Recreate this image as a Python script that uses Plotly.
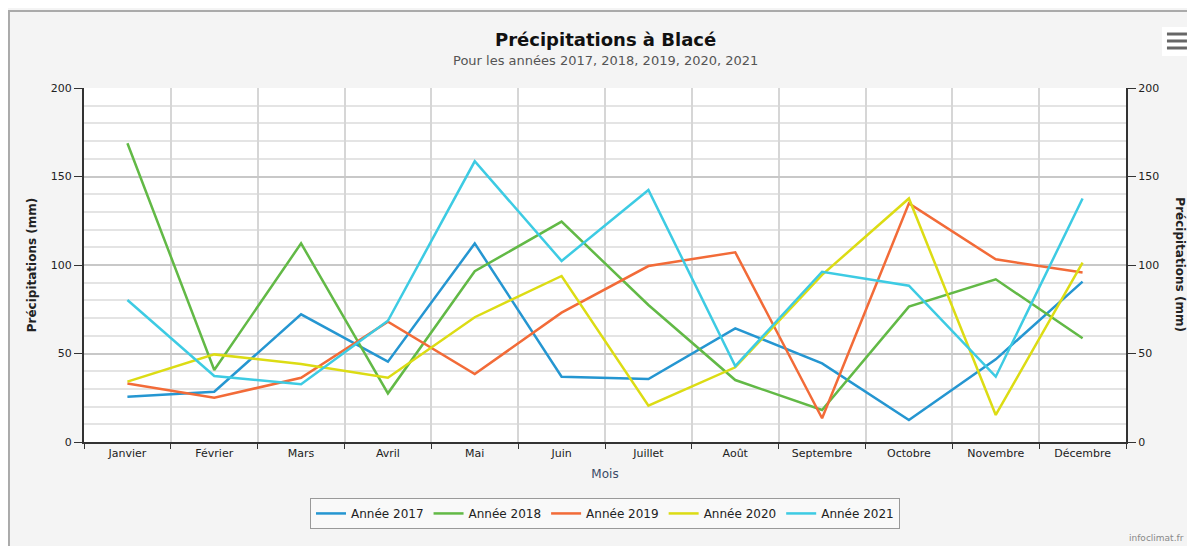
import plotly.graph_objects as go

mois = ["Janvier", "Février", "Mars", "Avril", "Mai", "Juin", "Juillet",
        "Août", "Septembre", "Octobre", "Novembre", "Décembre"]

annees = ["Année 2017", "Année 2018", "Année 2019", "Année 2020", "Année 2021"]

pluie_2017 = [25.6, 28.4, 72.1, 45.4, 112.2, 36.9, 35.6, 64.2, 44.4, 12.4, 46.7, 90.6]
pluie_2018 = [168.8, 40.7, 112.2, 27.5, 96.5, 124.5, 77.4, 35.0, 18.1, 76.5, 91.9, 58.6]
pluie_2019 = [33.1, 25.0, 36.3, 68.0, 38.4, 73.1, 99.4, 107.2, 13.4, 134.8, 103.2, 95.7]
pluie_2020 = [34.1, 49.5, 44.1, 36.3, 70.5, 93.8, 20.5, 42.2, 94.4, 137.6, 15.3, 101.3]
pluie_2021 = [80.2, 37.3, 32.6, 68.5, 158.6, 102.3, 142.4, 42.9, 96.2, 88.3, 36.9, 137.6]

series = [pluie_2017, pluie_2018, pluie_2019, pluie_2020, pluie_2021]
couleurs = ["#2596d1", "#62b946", "#f26b38", "#dcdc14", "#3dcbe3"]

police = "DejaVu Sans"

fig = go.Figure()

for nom, valeurs, c in zip(annees, series, couleurs):
    fig.add_trace(go.Scatter(x=mois, y=valeurs, name=nom, mode="lines",
                             line=dict(color=c, width=2.5)))

# axe de droite (meme echelle)
fig.add_trace(go.Scatter(x=mois, y=pluie_2017, yaxis="y2", mode="lines",
                         line=dict(width=0), showlegend=False, hoverinfo="skip"))

# la page ajoute une marge de 8 px : la figure fait donc 1187 x 538
fig.update_layout(
    width=1187, height=538,
    margin=dict(l=76, r=69, t=80, b=104),
    paper_bgcolor="#f4f4f4",
    plot_bgcolor="white",
    font=dict(family=police, size=12, color="#333333"),
    xaxis=dict(
        type="category", tickson="boundaries",
        showgrid=True, gridcolor="#d6d6d6", gridwidth=2,
        showline=True, linecolor="#333333", linewidth=2,
        ticks="outside", ticklen=5, tickcolor="#333333",
        tickfont=dict(size=11, color="#222222"),
        title=dict(text="Mois", font=dict(size=12, color="#3a4a66"), standoff=10),
        range=[-0.5, 11.5]),
    yaxis=dict(
        range=[0, 200], dtick=50,
        showgrid=True, gridcolor="#c8c8c8", gridwidth=2,
        minor=dict(dtick=10, showgrid=True, gridcolor="#e4e4e4", gridwidth=2),
        showline=True, linecolor="#333333", linewidth=2,
        ticks="outside", ticklen=8, tickcolor="#333333",
        tickfont=dict(size=11, color="#222222"),
        zeroline=False,
        title=dict(text="<b>Précipitations (mm)</b>", font=dict(size=12, color="#222222"),
                   standoff=12)),
    yaxis2=dict(
        range=[0, 200], dtick=50, overlaying="y", side="right",
        showgrid=False, zeroline=False,
        showline=True, linecolor="#333333", linewidth=2,
        ticks="outside", ticklen=8, tickcolor="#333333",
        tickfont=dict(size=11, color="#222222")),
    legend=dict(
        orientation="h", x=0.5, xanchor="center", y=-0.158, yanchor="top",
        bgcolor="#f9f9f9", bordercolor="#999999", borderwidth=1,
        font=dict(size=12, color="#222222"), itemwidth=30),
    showlegend=True,
)

# titre et sous-titre
fig.add_annotation(text="<b>Précipitations à Blacé</b>", xref="paper", yref="paper",
                   x=0.5, y=1.1356, xanchor="center", yanchor="middle", showarrow=False,
                   font=dict(size=18, color="#111111"))
fig.add_annotation(text="Pour les années 2017, 2018, 2019, 2020, 2021",
                   xref="paper", yref="paper", x=0.5, y=1.0763,
                   xanchor="center", yanchor="middle", showarrow=False,
                   font=dict(size=13, color="#555555"))

# titre de l'axe de droite, lu de haut en bas
fig.add_annotation(text="<b>Précipitations (mm)</b>", xref="paper", yref="paper",
                   x=1.0515, y=0.5, xanchor="center", yanchor="middle",
                   textangle=90, showarrow=False,
                   font=dict(size=12, color="#222222"))

# credit
fig.add_annotation(text="infoclimat.fr", xref="paper", yref="paper",
                   x=1.058, y=-0.271, xanchor="right", yanchor="middle", showarrow=False,
                   font=dict(size=9, color="#888888"))

# cadre exterieur
fig.add_shape(type="rect", xref="paper", yref="paper",
              x0=-0.072, x1=1.2, y0=-0.5, y1=1.2175,
              line=dict(color="#aaaaaa", width=2), layer="below")

# bouton menu
fig.add_shape(type="rect", xref="paper", yref="paper",
              x0=1.0345, x1=1.0624, y0=1.0904, y1=1.1723,
              fillcolor="white", line=dict(color="white", width=0))
for yy in [1.1525, 1.1328, 1.113]:
    fig.add_shape(type="line", xref="paper", yref="paper",
                  x0=1.0393, x1=1.0585, y0=yy, y1=yy,
                  line=dict(color="#666666", width=3))

fig.write_html("out.html")
